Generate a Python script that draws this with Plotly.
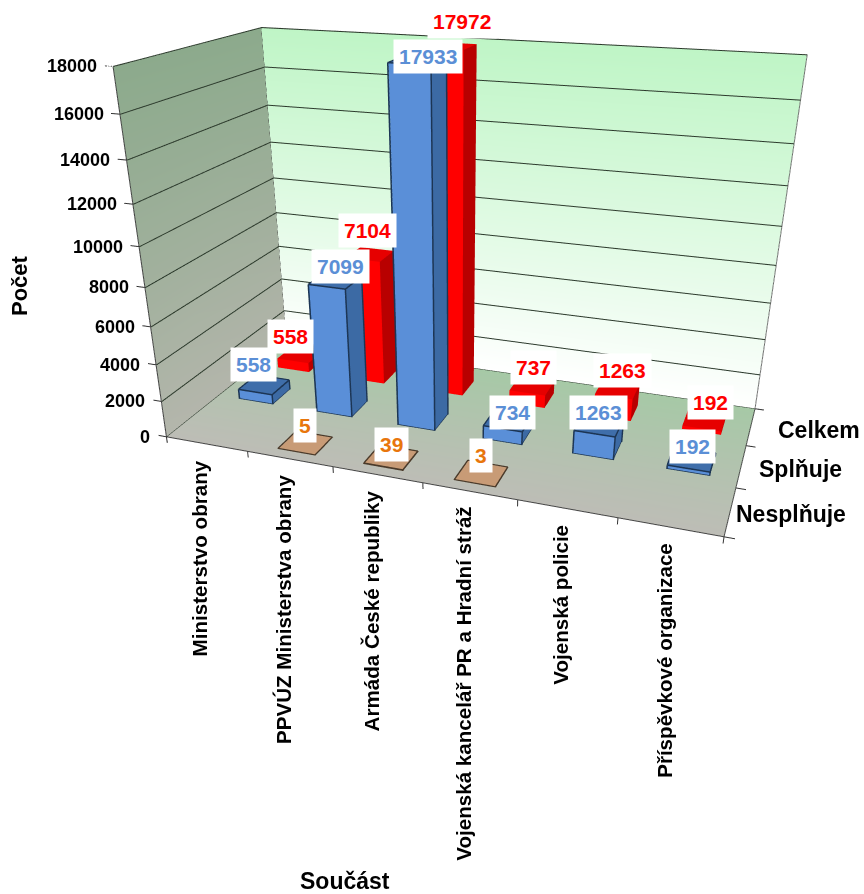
import plotly.graph_objects as go

categories = ["Ministerstvo obrany", "PPVÚZ Ministerstva obrany", "Armáda České republiky",
              "Vojenská kancelář PR a Hradní stráž", "Vojenská policie", "Příspěvkové organizace"]
series_names = ["Nesplňuje", "Splňuje", "Celkem"]
nesplnuje = [None, 5, 39, 3, None, None]
splnuje = [558, 7099, 17933, 734, 1263, 192]
celkem = [558, 7104, 17972, 737, 1263, 192]
value_ticks = list(range(0, 18001, 2000))

FONT = "Liberation Sans"
ZMAX = 18000
NX, NY = len(categories), len(series_names)
HX, HY, ROW_SHIFT = 0.2128, 0.22, -0.1075
X_PAD, Z_PAD = 0.1, 350
EPS = 0.006

styles = [
    dict(front="#C89B76", side="#B98A66", top="#C89B76", edge="#4A3A2A", label="#E8760C"),
    dict(front="#5A8FD8", side="#3C6AA4", top="#3F6EAA", edge="#1C3554", label="#5B8FD6"),
    dict(front="#FF0000", side="#B80000", top="#E60000", edge=None, label="#FF0000"),
]
# label offsets in pixels (xshift, yshift) per series and category
label_nudge = [
    [None, (0, 0), (0, -5), (0, 1), None, None],
    [(-11, 3), (5, -3), (11, -13), (4, -9), (0, -5), (1, -5)],
    [(-10, 0), (-2, 6), (11, 7), (1, 1), (5, 1), (6, 0)],
]
series_label_shift = [4, 16, 25]
FLAT = dict(ambient=1, diffuse=0, specular=0, roughness=1, fresnel=0)

fig = go.Figure()


def wall(xs, ys, zs, colors):
    fig.add_trace(go.Mesh3d(x=xs, y=ys, z=zs, i=[0, 0], j=[1, 2], k=[2, 3], vertexcolor=colors,
                            lighting=FLAT, hoverinfo="skip", showscale=False))


def lines(xs, ys, zs, color, width):
    fig.add_trace(go.Scatter3d(x=xs, y=ys, z=zs, mode="lines", line=dict(color=color, width=width),
                               hoverinfo="skip", showlegend=False))


# left wall, back wall, floor
wall([0, 0, 0, 0], [0, NY, NY, 0], [0, 0, ZMAX, ZMAX], ["#B4B6AC", "#B2B4AA", "#8CAA8C", "#8CAA8C"])
wall([0, NX, NX, 0], [NY, NY, NY, NY], [0, 0, ZMAX, ZMAX], ["#FFFFFF", "#FFFFFF", "#BFF5C6", "#BFF5C6"])
wall([0, NX, NX, 0], [0, 0, NY, NY], [0, 0, 0, 0], ["#BDBDB6", "#BDBDB6", "#A6C9A6", "#A6C9A6"])


def bar(ci, sj, v, st):
    x0, x1 = ci + .5 - HX, ci + .5 + HX
    yc = sj + .5 + ROW_SHIFT
    y0, y1 = yc - HY, yc + HY
    xs = [x0, x1, x1, x0, x0, x1, x1, x0]
    ys = [y0, y0, y1, y1, y0, y0, y1, y1]
    zs = [0, 0, 0, 0, v, v, v, v]
    i = [0, 0, 1, 1, 4, 4, 0, 0, 3, 3, 2, 2]
    j = [1, 5, 2, 6, 5, 6, 1, 2, 0, 4, 3, 7]
    k = [5, 4, 6, 5, 6, 7, 2, 3, 4, 7, 7, 6]
    fc = [st["front"]] * 2 + [st["side"]] * 2 + [st["top"]] * 2 + [st["top"]] * 2 + [st["side"]] * 4
    fig.add_trace(go.Mesh3d(x=xs, y=ys, z=zs, i=i, j=j, k=k, facecolor=fc, flatshading=True,
                            lighting=FLAT, hoverinfo="skip", showscale=False))
    if st["edge"]:
        # outline sits just outside the faces so the depth test keeps it visible
        a0, a1, b0, b1 = x0 - EPS, x1 + EPS, y0 - EPS, y1 + EPS
        t = v + 15
        lx = [a0, a1, a1, a0, a0, None, a0, a1, a1, a0, a0, None, a0, a0, None, a1, a1, None, a1, a1]
        ly = [b0, b0, b1, b1, b0, None, b0, b0, b1, b1, b0, None, b0, b0, None, b0, b0, None, b1, b1]
        lz = [0, 0, 0, 0, 0, None, t, t, t, t, t, None, 0, t, None, 0, t, None, 0, t]
        lines(lx, ly, lz, st["edge"], 3)


annotations = []
for sj in [2, 0, 1]:
    vals = [nesplnuje, splnuje, celkem][sj]
    st = styles[sj]
    for ci, v in enumerate(vals):
        if v is None:
            continue
        bar(ci, sj, v, st)
        nx, ny = label_nudge[sj][ci]
        annotations.append(dict(x=ci + .5, y=sj + .5 + ROW_SHIFT, z=v, text=f"<b>{v}</b>", showarrow=False,
                                yanchor="bottom", xshift=nx, yshift=ny,
                                bgcolor="#FFFFFF", borderpad=5,
                                font=dict(family=FONT, size=21, color=st["label"])))

# gridlines on both walls
gx, gy, gz = [], [], []
for v in value_ticks:
    gx += [EPS, EPS, NX, None]
    gy += [0, NY - EPS, NY - EPS, None]
    gz += [v, v, v, None]
lines(gx, gy, gz, "#2C3A2C", 2)

# wall edges
lines([0, NX, NX, None, 0, 0, NX], [NY, NY, NY, None, 0, NY, NY], [ZMAX, ZMAX, 0, None, ZMAX, ZMAX, ZMAX], "#6E6E6E", 2)
lines([0, 0, None, 0, 0, None, 0, NX, NX], [NY, NY, None, 0, 0, None, 0, 0, NY], [0, ZMAX, None, 0, ZMAX, None, 0, 0, 0], "#444444", 2)

# tick marks
tx, ty, tz = [], [], []
for v in value_ticks:
    tx += [0, -X_PAD, None]
    ty += [0, 0, None]
    tz += [v, v, None]
for ci in range(NX + 1):
    tx += [ci, ci, None]
    ty += [0, 0, None]
    tz += [0, -Z_PAD, None]
for sj in range(NY + 1):
    tx += [NX, NX + X_PAD, None]
    ty += [sj, sj, None]
    tz += [0, 0, None]
lines(tx, ty, tz, "#333333", 2)

for ci, name in enumerate(categories):
    annotations.append(dict(x=ci + .5, y=0, z=0, text=f"<b>{name}</b>", showarrow=False, textangle=-90,
                            yanchor="top", xshift=-6, yshift=-14, font=dict(family=FONT, size=20.6, color="#000000")))
for sj, name in enumerate(series_names):
    annotations.append(dict(x=NX, y=sj + .5, z=0, text=f"<b>{name}</b>", showarrow=False,
                            xanchor="left", xshift=series_label_shift[sj], yshift=-3,
                            font=dict(family=FONT, size=23, color="#000000")))
for v in value_ticks:
    annotations.append(dict(x=0, y=0, z=v, text=f"<b>{v}</b>", showarrow=False,
                            xanchor="right", xshift=-14, font=dict(family=FONT, size=18, color="#000000")))

# fitted camera, relative to the unpadded box, moved to the padded box centre
Lx, Ly, Lz = 1.0, 0.4737, 0.6444
dz = -Z_PAD / 2 / ZMAX * Lz
eye = dict(x=0.5738, y=-1.7018, z=0.5971 - dz)
center = dict(x=0, y=-0.071, z=-0.3382 - dz)

axis = dict(showbackground=False, showticklabels=False, showspikes=False, title=dict(text=""),
            showline=False, zeroline=False, ticks="", showgrid=False)
fig.update_layout(
    width=864, height=894, margin=dict(l=0, r=0, t=0, b=0), paper_bgcolor="#FFFFFF", showlegend=False,
    font=dict(family=FONT),
    scene=dict(
        domain=dict(x=[0.0543, 1], y=[0, 1]),
        aspectmode="manual",
        aspectratio=dict(x=Lx * (NX + 2 * X_PAD) / NX, y=Ly, z=Lz * (ZMAX + Z_PAD) / ZMAX),
        camera=dict(eye=eye, center=center, up=dict(x=0, y=0, z=1), projection=dict(type="perspective")),
        xaxis=dict(axis, range=[-X_PAD, NX + X_PAD]),
        yaxis=dict(axis, range=[0, NY]),
        zaxis=dict(axis, range=[-Z_PAD, ZMAX]),
        annotations=annotations,
    ),
    annotations=[
        dict(text="<b>Počet</b>", xref="paper", yref="paper", x=20 / 864, y=1 - 286 / 894, showarrow=False,
             xanchor="center", yanchor="middle", textangle=-90, font=dict(family=FONT, size=22, color="#000000")),
        dict(text="<b>Součást</b>", xref="paper", yref="paper", x=345 / 864, y=1 - 881 / 894, showarrow=False,
             xanchor="center", yanchor="middle", font=dict(family=FONT, size=23, color="#000000")),
    ],
)
fig.write_html("out.html", config=dict(displayModeBar=False), post_script="document.body.style.margin='0';")
